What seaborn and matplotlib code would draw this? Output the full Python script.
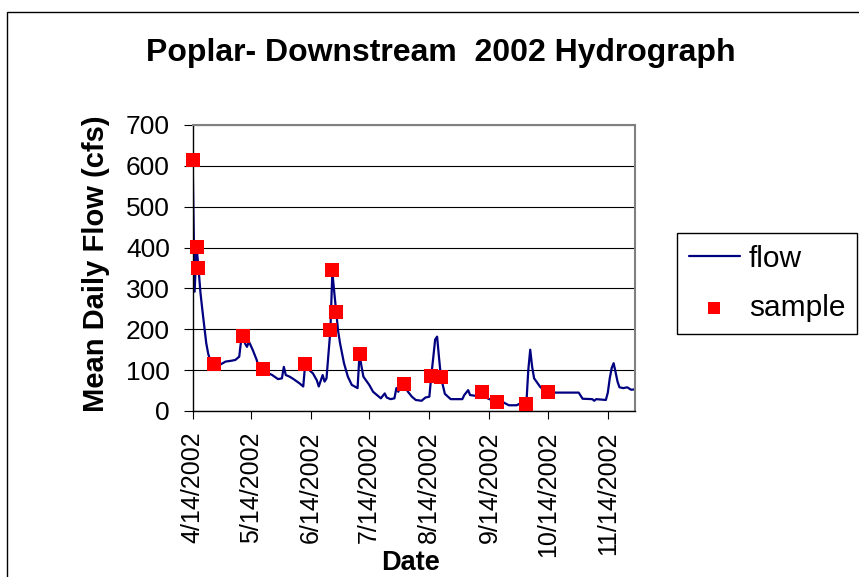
import matplotlib
matplotlib.use("Agg")
import pandas as pd
import seaborn as sns
import matplotlib.pyplot as plt
import matplotlib.dates as mdates
from matplotlib.ticker import FuncFormatter
from matplotlib.patches import Rectangle

# mean daily flow (month/day, 2002)
flow_dates = [
    "04/14", "04/15", "04/16", "04/17", "04/18", "04/19", "04/20", "04/21", "04/22", "04/23",
    "04/25", "04/28", "05/01", "05/04", "05/06", "05/08", "05/09", "05/10", "05/11", "05/12",
    "05/13", "05/15", "05/17", "05/18", "05/20", "05/22", "05/25", "05/28", "05/30", "05/31",
    "06/01", "06/03", "06/05", "06/08", "06/10", "06/11", "06/12", "06/15", "06/17", "06/18",
    "06/20", "06/21", "06/22", "06/23", "06/24", "06/25", "06/26", "06/27", "06/28", "06/29",
    "07/01", "07/03", "07/05", "07/08", "07/09", "07/10", "07/11", "07/14", "07/16", "07/20",
    "07/22", "07/23", "07/25", "07/27", "07/28", "07/29", "07/30", "07/31", "08/01", "08/02",
    "08/03", "08/05", "08/07", "08/10", "08/12", "08/14", "08/15", "08/16", "08/17", "08/18",
    "08/19", "08/20", "08/22", "08/25", "08/31", "09/01", "09/03", "09/04", "09/07", "09/10",
    "09/13", "09/17", "09/18", "09/19", "09/22", "09/24", "09/28", "09/30", "10/03", "10/04",
    "10/05", "10/06", "10/07", "10/10", "10/12", "10/15", "10/30", "11/01", "11/06", "11/07",
    "11/08", "11/13", "11/14", "11/15", "11/16", "11/17", "11/18", "11/19", "11/20", "11/22",
    "11/24", "11/26", "11/28",
]
flow_cfs = [
    614, 292, 402, 350, 290, 247, 206, 166, 140, 125,
    115, 113, 121, 123, 125, 133, 174, 184, 165, 157,
    170, 149, 125, 108, 102, 95, 88, 78, 80, 108,
    88, 84, 78, 68, 60, 115, 105, 92, 75, 60,
    88, 72, 80, 140, 198, 340, 290, 242, 195, 165,
    117, 84, 64, 56, 139, 110, 84, 64, 47, 31,
    43, 33, 29, 31, 56, 47, 60, 56, 67, 55,
    47, 35, 27, 25, 33, 35, 86, 130, 175, 182,
    130, 82, 42, 29, 29, 39, 51, 39, 37, 44,
    31, 23, 22, 27, 19, 14, 14, 19, 17, 100,
    150, 108, 80, 60, 50, 45, 45, 30, 29, 25,
    29, 27, 45, 80, 105, 117, 95, 72, 58, 56,
    58, 52, 53,
]

# water quality sample days
sample_dates = [
    "04/14", "04/16", "04/17", "04/25", "05/10", "05/20", "06/11", "06/24", "06/25",
    "06/27", "07/09", "08/01", "08/15", "08/20", "09/10", "09/18", "10/03", "10/14",
]
sample_cfs = [614, 402, 350, 115, 184, 102, 115, 198, 345, 242, 139, 67, 86, 82, 46, 22, 17, 46]

sns.set_theme(style="white", rc={
    "text.color": "black", "axes.labelcolor": "black",
    "xtick.color": "black", "ytick.color": "black",
})
plt.rcParams["font.family"] = ["Liberation Sans", "DejaVu Sans"]

flow = pd.DataFrame({"date": pd.to_datetime(["2002/" + d for d in flow_dates]), "cfs": flow_cfs})
samples = pd.DataFrame({"date": pd.to_datetime(["2002/" + d for d in sample_dates]), "cfs": sample_cfs})

fig = plt.figure(figsize=(8.59, 5.77), dpi=100)
ax = fig.add_axes([0.2243, 0.2877, 0.5149, 0.4957])

sns.lineplot(data=flow, x="date", y="cfs", color="#000080", lw=1.6, label="flow", ax=ax)
sns.scatterplot(data=samples, x="date", y="cfs", marker="s", s=110, color="red",
                linewidth=0, label="sample", ax=ax, zorder=3, clip_on=False)

ax.set_xlim(flow["date"].min(), flow["date"].max())
ax.set_ylim(0, 700)
ax.set_yticks(range(0, 701, 100))
ax.xaxis.set_major_locator(mdates.MonthLocator(bymonthday=14))
ax.xaxis.set_major_formatter(FuncFormatter(
    lambda v, _: "{0.month}/{0.day}/{0.year}".format(mdates.num2date(v))))

ax.yaxis.grid(True, color="black", lw=0.8)
ax.xaxis.grid(False)
ax.set_axisbelow(True)
for side in ["left", "bottom"]:
    ax.spines[side].set_color("black")
    ax.spines[side].set_linewidth(1.0)
for side in ["top", "right"]:
    ax.spines[side].set_color("#808080")
    ax.spines[side].set_linewidth(1.5)

ax.tick_params(axis="y", left=True, direction="out", length=6.5, width=0.8, pad=10, labelsize=19)
ax.tick_params(axis="x", bottom=True, direction="out", length=6, width=0.8, pad=9,
               labelsize=18, labelrotation=90)

ax.set_ylabel("Mean Daily Flow (cfs)", fontsize=21, fontweight="bold")
ax.yaxis.set_label_coords(-0.187, 0.515)
ax.set_xlabel("Date", fontsize=19.5, fontweight="bold")
ax.xaxis.set_label_coords(0.4936, -0.485)

fig.text(441 / 859, 1 - 53 / 577, "Poplar- Downstream  2002 Hydrograph",
         ha="center", va="center", fontsize=23, fontweight="bold")

ax.get_legend().remove()
leg = ax.legend(loc="upper left", bbox_to_anchor=(677 / 859, 1 - 233 / 577),
                bbox_transform=fig.transFigure, fontsize=21.5, frameon=True,
                fancybox=False, edgecolor="black", framealpha=1, borderpad=0.4,
                labelspacing=0.7, handlelength=1.7, handletextpad=0.3,
                borderaxespad=0, markerscale=0.8)
leg.get_frame().set_linewidth(1.0)

# chart area border, cropped at the right and bottom
fig.patches.append(Rectangle((7 / 859, -0.1), 2, 1.1 - 12 / 577, transform=fig.transFigure,
                             fill=False, edgecolor="black", lw=1.0))

fig.savefig("out.png", dpi=100)
